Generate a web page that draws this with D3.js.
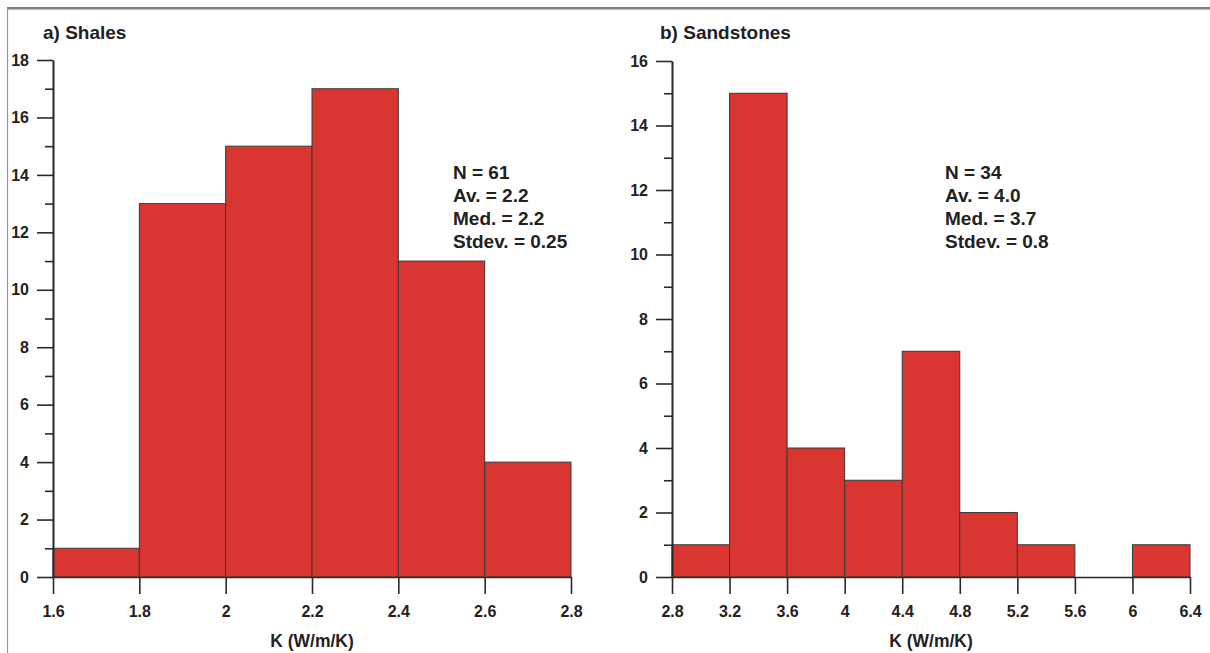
<!DOCTYPE html>
<html>
<head>
<meta charset="utf-8">
<script src="https://cdn.jsdelivr.net/npm/d3@7"></script>
<style>
  html, body { margin: 0; padding: 0; background: #fff; }
  svg { display: block; }
  text { font-family: "Liberation Sans", Arial, sans-serif; font-weight: bold; fill: #222; }
</style>
</head>
<body>
<script>
// Thermal conductivity histograms
const shaleEdges = [1.6, 1.8, 2.0, 2.2, 2.4, 2.6, 2.8];
const shaleCounts = [1, 13, 15, 17, 11, 4];
const shaleStats = ["N = 61", "Av. = 2.2", "Med. = 2.2", "Stdev. = 0.25"];

const sandEdges = [2.8, 3.2, 3.6, 4.0, 4.4, 4.8, 5.2, 5.6, 6.0, 6.4];
const sandCounts = [1, 15, 4, 3, 7, 2, 1, 0, 1];
const sandStats = ["N = 34", "Av. = 4.0", "Med. = 3.7", "Stdev. = 0.8"];

const xTitle = "K (W/m/K)";

const W = 1210, H = 653;
const svg = d3.select("body").append("svg").attr("width", W).attr("height", H);

// frame lines
svg.append("line").attr("x1", 7).attr("x2", W).attr("y1", 8).attr("y2", 8)
  .attr("stroke", "#555").attr("stroke-width", 1.5);
svg.append("line").attr("x1", 7).attr("x2", W).attr("y1", 9.6).attr("y2", 9.6)
  .attr("stroke", "#bbb").attr("stroke-width", 1);
svg.append("line").attr("x1", 7.5).attr("x2", 7.5).attr("y1", 8).attr("y2", H)
  .attr("stroke", "#999").attr("stroke-width", 1.2);

function panel(opt) {
  const { edges, counts, stats, title, x0, x1, yTop, yMax, statsX, titleX } = opt;
  const y0 = 577;
  const g = svg.append("g");
  const x = d3.scaleLinear().domain([edges[0], edges[edges.length - 1]]).range([x0, x1]);
  const y = d3.scaleLinear().domain([0, yMax]).range([y0, yTop]);

  const bins = counts.map((c, i) => ({ a: edges[i], b: edges[i + 1], c }));
  g.selectAll("rect.bar").data(bins.filter(d => d.c > 0)).join("rect")
    .attr("class", "bar")
    .attr("x", d => x(d.a))
    .attr("width", d => x(d.b) - x(d.a))
    .attr("y", d => y(d.c))
    .attr("height", d => y(0) - y(d.c))
    .attr("fill", "#d93632")
    .attr("stroke", "#3a3a3a")
    .attr("stroke-width", 1);

  const fmt = d3.format("~g");
  const majors = d3.range(0, yMax + 1, 2);
  const minors = d3.range(1, yMax, 2);

  const yMinor = g.append("g").attr("transform", `translate(${x0},0)`)
    .call(d3.axisLeft(y).tickValues(minors).tickSize(8).tickSizeOuter(0).tickFormat(""));
  const yMajor = g.append("g").attr("transform", `translate(${x0},0)`)
    .call(d3.axisLeft(y).tickValues(majors).tickSize(16).tickSizeOuter(0).tickPadding(8).tickFormat(fmt));
  const xAx = g.append("g").attr("transform", `translate(0,${y0})`)
    .call(d3.axisBottom(x).tickValues(edges).tickSize(17).tickSizeOuter(0).tickPadding(12).tickFormat(fmt));

  [yMinor, yMajor, xAx].forEach(a => {
    a.attr("font-size", null).attr("font-family", null);
    a.selectAll("path.domain").attr("stroke", "#2a2a2a").attr("stroke-width", 1.6);
    a.selectAll(".tick line").attr("stroke", "#2a2a2a").attr("stroke-width", 1.6);
    a.selectAll(".tick text").style("font-size", "16px").attr("fill", "#222");
  });

  g.append("text").attr("x", titleX).attr("y", 39).style("font-size", "19px").text(title);

  g.append("text").attr("x", (x0 + x1) / 2).attr("y", 647).attr("text-anchor", "middle")
    .style("font-size", "17.5px").text(xTitle);

  g.append("g").selectAll("text").data(stats).join("text")
    .attr("x", statsX).attr("y", (d, i) => 179 + i * 23)
    .style("font-size", "19px").text(d => d);
}

panel({ edges: shaleEdges, counts: shaleCounts, stats: shaleStats, title: "a) Shales",
  x0: 53, x1: 571, yTop: 60, yMax: 18, statsX: 453, titleX: 43 });
panel({ edges: sandEdges, counts: sandCounts, stats: sandStats, title: "b) Sandstones",
  x0: 672, x1: 1190, yTop: 61, yMax: 16, statsX: 945, titleX: 660 });
</script>
</body>
</html>
